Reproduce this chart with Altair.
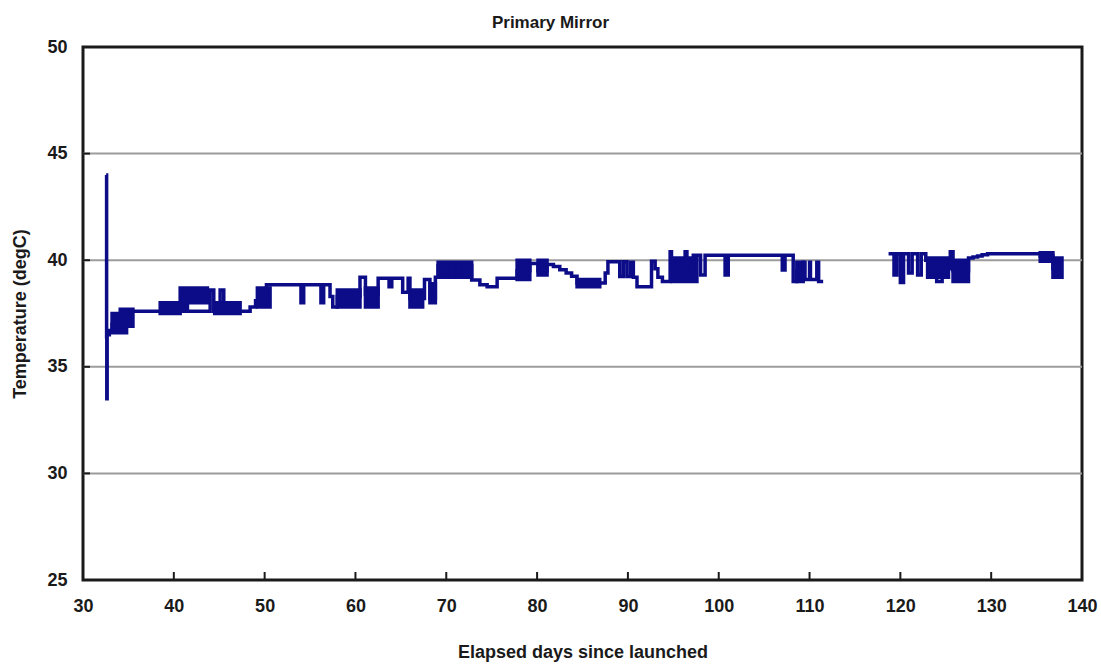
import altair as alt
import pandas as pd

# Primary mirror temperature, step trace (day the level starts, level in degC)
seg1_day = [
    32.55, 32.60, 32.62, 32.66, 32.90, 33.20, 33.50, 33.80, 34.20, 34.50,
    34.90, 35.20, 44.00, 44.40, 45.10, 45.50, 48.40, 49.00, 49.50, 50.20,
    54.00, 54.30, 56.20, 56.50, 57.20, 57.50, 58.00, 60.50, 61.10, 62.50,
    63.70, 64.00, 65.20, 65.80, 66.00, 67.60, 68.20, 68.80, 69.10, 69.90,
    70.10, 70.60, 70.80, 71.30, 71.50, 72.20, 72.40, 72.80, 73.70, 74.50,
    75.60, 77.80, 79.20, 80.10, 81.10, 81.80, 82.50, 83.20, 83.80, 84.40,
    87.50, 87.80, 89.10, 89.50, 89.90, 90.30, 90.60, 91.00, 92.60, 93.00,
    93.30, 93.80, 94.65, 94.80, 96.30, 96.50, 97.20, 98.00, 98.50, 100.70,
    101.05, 107.00, 107.30, 108.20, 108.60, 109.30, 109.50, 110.00, 110.10, 110.80,
    111.00, 111.50,
]
seg1_temp = [
    44.00, 36.40, 33.50, 36.50, 36.70, 37.00, 36.80, 37.30, 37.00, 37.40,
    37.10, 37.60, 38.60, 37.60, 38.60, 37.60, 37.80, 38.10, 38.40, 38.85,
    38.00, 38.85, 38.00, 38.85, 38.30, 37.80, 38.30, 39.20, 38.40, 39.15,
    38.75, 39.15, 38.50, 39.15, 38.20, 39.10, 38.20, 39.20, 39.90, 39.30,
    39.90, 39.30, 39.90, 39.30, 39.90, 39.30, 39.90, 39.07, 38.85, 38.76,
    39.15, 39.50, 39.85, 39.50, 39.80, 39.70, 39.55, 39.40, 39.25, 38.93,
    39.40, 39.93, 39.23, 39.93, 39.23, 39.90, 39.20, 38.76, 39.95, 39.60,
    39.20, 39.00, 40.40, 39.10, 40.40, 39.60, 40.23, 39.30, 40.23, 39.30,
    40.23, 39.54, 40.23, 39.00, 39.50, 39.90, 39.10, 39.90, 39.10, 39.90,
    39.00, 39.00,
]
seg2_day = [
    118.70, 119.30, 119.60, 120.00, 120.35, 120.90, 121.30, 121.90, 122.30, 122.80,
    124.00, 124.60, 125.50, 125.80, 127.50, 128.00, 128.50, 129.00, 129.60, 135.40,
    136.80, 137.80,
]
seg2_temp = [
    40.30, 39.30, 40.30, 38.95, 40.30, 39.40, 40.30, 39.30, 40.30, 40.00,
    39.00, 39.60, 40.40, 39.50, 40.10, 40.15, 40.20, 40.25, 40.30, 40.20,
    39.60, 39.60,
]

# Stretches where the reading flickers too fast to separate: day range and band
band_start = [33.2, 34.1, 38.5, 40.7, 40.7, 44.5, 49.2, 58.0, 61.1, 66.0,
              68.2, 69.1, 77.8, 80.1, 84.4, 94.9, 108.6, 123.0, 125.8, 135.4, 136.8]
band_end = [34.8, 35.5, 40.7, 43.7, 41.5, 47.3, 50.6, 60.5, 62.5, 67.4,
            68.8, 72.8, 79.2, 81.1, 86.9, 97.6, 109.3, 125.3, 127.5, 136.8, 137.8]
band_low = [36.6, 36.9, 37.5, 38.0, 37.6, 37.5, 37.8, 37.8, 37.8, 37.8,
            38.0, 39.2, 39.1, 39.3, 38.75, 39.0, 39.0, 39.2, 39.0, 39.95, 39.2]
band_high = [37.5, 37.7, 38.0, 38.7, 38.0, 38.0, 38.7, 38.6, 38.7, 38.6,
             38.9, 39.75, 40.0, 40.0, 39.1, 40.1, 39.9, 40.1, 40.0, 40.35, 40.1]

x_ticks = [30, 40, 50, 60, 70, 80, 90, 100, 110, 120, 130, 140]
y_ticks = [25, 30, 35, 40, 45, 50]

LINE = "#0c0c88"
FONT = "Liberation Sans"
INK = "#1a1a1a"

trace = pd.DataFrame({
    "day": seg1_day + seg2_day,
    "temp": seg1_temp + seg2_temp,
    "part": ["a"] * len(seg1_day) + ["b"] * len(seg2_day),
})
bands = pd.DataFrame({"d0": band_start, "d1": band_end, "lo": band_low, "hi": band_high})
xt = pd.DataFrame({"day": x_ticks[1:-1]})
yt = pd.DataFrame({"temp": y_ticks[1:-1]})

x_scale = alt.Scale(domain=[30, 140], nice=False, zero=False)
y_scale = alt.Scale(domain=[25, 50], nice=False, zero=False)

x_axis = alt.Axis(
    values=x_ticks, title="Elapsed days since launched", grid=False, ticks=False,
    domain=False, labelFontSize=18, labelFont=FONT, labelFontWeight="bold",
    labelColor=INK, labelPadding=17, labelFlush=False, labelOverlap=False,
    titleFontSize=18, titleFont=FONT, titleFontWeight="bold", titleColor=INK,
    titleY=72, titleBaseline="middle",
)
y_axis = alt.Axis(
    values=y_ticks, title="Temperature (degC)", grid=False, ticks=False,
    domain=False, labelFontSize=18, labelFont=FONT,
    labelFontWeight="bold", labelColor=INK, labelPadding=16, labelFlush=False,
    labelOverlap=False, titleFontSize=18, titleFont=FONT, titleFontWeight="bold",
    titleColor=INK, titleX=-63, titleBaseline="middle",
)

# horizontal gridlines inside the frame
grid = alt.Chart(yt).mark_rule(color="#9c9c9c", strokeWidth=2).encode(
    y=alt.Y("temp:Q", scale=y_scale),
    x=alt.value(0),
    x2=alt.value(999),
)

line = alt.Chart(trace).mark_line(
    interpolate="step-after", color=LINE, strokeWidth=3.5, strokeJoin="miter"
).encode(
    x=alt.X("day:Q", scale=x_scale, axis=x_axis),
    y=alt.Y("temp:Q", scale=y_scale, axis=y_axis),
    detail="part:N",
)

blocks = alt.Chart(bands).mark_rect(
    fill=LINE, stroke=LINE, strokeWidth=3.5
).encode(
    x=alt.X("d0:Q", scale=x_scale),
    x2="d1:Q",
    y=alt.Y("lo:Q", scale=y_scale),
    y2="hi:Q",
)

# short inward tick marks on the bottom and left edges
x_marks = alt.Chart(xt).mark_rule(color=INK, strokeWidth=2).encode(
    x=alt.X("day:Q", scale=x_scale),
    y=alt.value(533),
    y2=alt.value(525),
)
y_marks = alt.Chart(yt).mark_rule(color=INK, strokeWidth=2).encode(
    y=alt.Y("temp:Q", scale=y_scale),
    x=alt.value(0),
    x2=alt.value(7),
)

chart = alt.layer(grid, y_marks, x_marks, blocks, line).properties(
    width=999,
    height=533,
    title=alt.TitleParams(
        "Primary Mirror", fontSize=17, font=FONT, fontWeight="bold", color=INK,
        anchor="middle", frame="group", dx=-32, offset=6,
    ),
    autosize=alt.AutoSizeParams(type="none"),
    padding={"left": 83, "top": 47, "right": 19, "bottom": 86},
).configure(
    background="white"
).configure_view(
    stroke=INK, strokeWidth=3
)

chart.save("out.html", embed_options={"renderer": "svg", "actions": False})
